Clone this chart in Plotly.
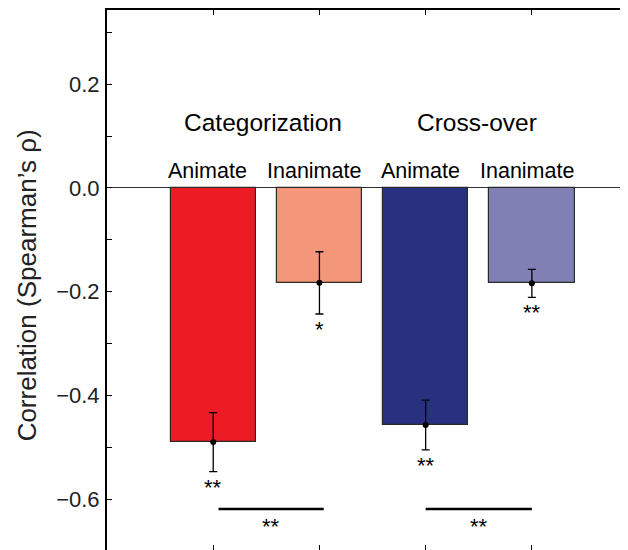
import plotly.graph_objects as go

# ---- data ----
positions = [1, 2, 3, 4]
conditions = ["Animate", "Inanimate", "Animate", "Inanimate"]
groups = ["Categorization", "Cross-over"]
values = [-0.490, -0.183, -0.457, -0.184]
errors = [0.057, 0.060, 0.048, 0.027]
bar_stars = ["**", "*", "**", "**"]
pair_stars = ["**", "**"]
colors = ["#ED1C24", "#F4967A", "#283080", "#8080B4"]
ytick_vals = [-0.6, -0.4, -0.2, 0.0, 0.2]
ytick_text = ["\u22120.6", "\u22120.4", "\u22120.2", "0.0", "0.2"]

FONT = "Arial, Liberation Sans, Helvetica, sans-serif"

fig = go.Figure()

fig.add_trace(go.Bar(
    x=positions, y=values, width=0.803,
    marker=dict(color=colors, line=dict(color="#2a2a2a", width=1.2)),
    error_y=dict(type="data", array=errors, color="black", thickness=1.3, width=4),
    showlegend=False, hoverinfo="skip",
))
fig.add_trace(go.Scatter(
    x=positions, y=values, mode="markers",
    marker=dict(color="black", size=6), showlegend=False, hoverinfo="skip",
))
# invisible trace for top axis
fig.add_trace(go.Scatter(x=[1], y=[0], xaxis="x2", mode="markers",
                         marker=dict(opacity=0), showlegend=False, hoverinfo="skip"))

annotations = []
# group labels
for g, xc in zip(groups, [1.47, 3.48]):
    annotations.append(dict(x=xc, y=0.127, text=g, showarrow=False,
                            font=dict(size=24.5, color="black", family=FONT),
                            xanchor="center", yanchor="middle"))
# condition labels
for c, xp in zip(conditions, positions):
    annotations.append(dict(x=xp - 0.05, y=0.033, text=c, showarrow=False,
                            font=dict(size=21.5, color="black", family=FONT),
                            xanchor="center", yanchor="middle"))
# stars under bars
for s, xp, v, e in zip(bar_stars, positions, values, errors):
    annotations.append(dict(x=xp, y=v - e - 0.030, text=s, showarrow=False,
                            font=dict(size=22, color="black", family=FONT),
                            xanchor="center", yanchor="middle"))
# pair comparisons
pairs = [(1.05, 2.04), (3.0, 4.0)]
shapes = []
for (a, b), s in zip(pairs, pair_stars):
    shapes.append(dict(type="line", x0=a, x1=b, y0=-0.619, y1=-0.619,
                       xref="x", yref="y", line=dict(color="black", width=2.5)))
    annotations.append(dict(x=(a + b) / 2, y=-0.652, text=s, showarrow=False,
                            font=dict(size=22, color="black", family=FONT),
                            xanchor="center", yanchor="middle"))
# y title
annotations.append(dict(xref="paper", yref="paper", x=-0.1536, y=0.49,
                        text="Correlation (Spearman\u2019s \u03c1)", textangle=-90,
                        showarrow=False, font=dict(size=26, color="#222", family=FONT),
                        xanchor="center", yanchor="middle"))

fig.update_layout(
    width=620, height=542,
    margin=dict(l=99, r=0, t=2, b=0),
    plot_bgcolor="white", paper_bgcolor="white",
    font=dict(family=FONT, color="black"),
    annotations=annotations, shapes=shapes,
    xaxis=dict(range=[0, 4.905], showline=False, showgrid=False, zeroline=False,
               ticks="inside", tickvals=positions, ticklen=5, tickwidth=1.3,
               tickcolor="black", showticklabels=False),
    xaxis2=dict(range=[0, 4.905], overlaying="x", side="top", showline=True,
                linecolor="black", linewidth=2, showgrid=False, zeroline=False,
                ticks="inside", tickvals=positions, ticklen=5, tickwidth=1.3,
                tickcolor="black", showticklabels=False),
    yaxis=dict(range=[-0.698, 0.343], showline=True, linecolor="black", linewidth=2,
               showgrid=False, zeroline=True, zerolinecolor="#333", zerolinewidth=1,
               ticks="inside", ticklen=5, tickwidth=1.3, tickcolor="black",
               tickvals=ytick_vals, ticktext=ytick_text,
               tickfont=dict(size=22, color="#222", family=FONT),
               ticklabelstandoff=1,
               minor=dict(tickvals=[-0.5, -0.3, -0.1, 0.1, 0.3], ticks="inside",
                          ticklen=5, tickwidth=1.3, tickcolor="black")),
    bargap=0,
)

fig.write_html("out.html")
